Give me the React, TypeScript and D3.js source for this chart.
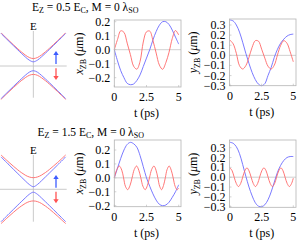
import React from 'react';
import * as d3 from 'd3';

const width = 297;
const height = 245;

// time grid (ps)
const tGrid = [0, 0.25, 0.5, 0.75, 1, 1.25, 1.5, 1.75, 2, 2.25, 2.5, 2.75, 3, 3.25, 3.5, 3.75, 4, 4.25, 4.5, 4.75, 5];

// Ez = 0.5 Ec
const xzbBlueTop = [0, -0.08, -0.15, -0.2, -0.24, -0.25, -0.245, -0.22, -0.18, -0.12, -0.06, 0.0, 0.07, 0.13, 0.175, 0.2, 0.2, 0.18, 0.14, 0.09, 0.04];
const xzbRedTop = [0, 0.073, 0.135, 0.124, 0.047, -0.035, -0.118, -0.139, -0.084, 0.055, 0.128, 0.133, 0.066, -0.024, -0.11, -0.14, -0.093, -0.018, 0.08, 0.137, 0.105];
const yzbBlueTop = [0.35, 0.34, 0.3, 0.23, 0.13, 0.02, -0.08, -0.17, -0.24, -0.285, -0.3, -0.28, -0.2, -0.12, -0.02, 0.06, 0.12, 0.16, 0.19, 0.205, 0.21];
const yzbRedTop = [0.15, 0.114, 0.02, -0.102, -0.135, -0.102, -0.019, 0.08, 0.145, 0.14, 0.061, -0.027, -0.107, -0.135, -0.097, 0.004, 0.098, 0.145, 0.12, 0.036, -0.064];

// Ez = 1.5 Ec
const xzbBlueBot = [0, 0.07, 0.14, 0.2, 0.24, 0.255, 0.245, 0.22, 0.16, 0.08, 0.0, -0.06, -0.115, -0.16, -0.19, -0.2, -0.195, -0.175, -0.14, -0.1, -0.05];
const xzbRedBotT = [0, 0.2, 0.39, 0.58, 0.72, 0.86, 1.04, 1.22, 1.38, 1.55, 1.73, 1.9, 2.06, 2.22, 2.4, 2.57, 2.73, 2.9, 3.08, 3.24, 3.38, 3.52, 3.67, 3.82, 3.96, 4.1, 4.26, 4.42, 4.57, 4.72, 4.88, 5];
const xzbRedBot = [0, 0.06, 0.085, 0.055, 0, -0.06, -0.085, -0.055, 0, 0.06, 0.085, 0.055, 0, -0.06, -0.085, -0.055, 0, 0.06, 0.085, 0.055, 0, -0.06, -0.085, -0.055, 0, 0.06, 0.085, 0.055, 0, -0.06, -0.085, -0.075];
const yzbBlueBot = [0.355, 0.345, 0.31, 0.24, 0.13, 0.01, -0.1, -0.19, -0.26, -0.295, -0.3, -0.28, -0.23, -0.15, -0.05, 0.05, 0.12, 0.17, 0.2, 0.21, 0.21];
const yzbRedBotT = [0, 0.17, 0.33, 0.5, 0.67, 0.84, 1.0, 1.17, 1.34, 1.5, 1.67, 1.84, 2.01, 2.18, 2.34, 2.51, 2.68, 2.85, 3.01, 3.18, 3.35, 3.52, 3.68, 3.85, 4.02, 4.19, 4.35, 4.52, 4.69, 4.86, 5];
const yzbRedBot = [0.095, 0.065, 0, -0.065, -0.095, -0.065, 0, 0.065, 0.095, 0.065, 0, -0.065, -0.095, -0.065, 0, 0.065, 0.095, 0.065, 0, -0.065, -0.095, -0.065, 0, 0.065, 0.095, 0.065, 0, -0.065, -0.095, -0.065, -0.01];

// band diagrams: k and E (arb. units)
const kGrid = [-1, -0.75, -0.5, -0.375, -0.25, -0.125, 0, 0.125, 0.25, 0.375, 0.5, 0.75, 1];
const bandBlueUpTop = [1.008, 0.761, 0.517, 0.397, 0.282, 0.18, 0.13, 0.18, 0.282, 0.397, 0.517, 0.761, 1.008];
const bandRedUpTop = [1.026, 0.784, 0.55, 0.44, 0.34, 0.262, 0.23, 0.262, 0.34, 0.44, 0.55, 0.784, 1.026];
const bandBlueLoTop = [-1.01, -0.764, -0.521, -0.402, -0.289, -0.191, -0.145, -0.191, -0.289, -0.402, -0.521, -0.764, -1.01];
const bandRedLoTop = [-1.033, -0.793, -0.563, -0.456, -0.362, -0.288, -0.26, -0.288, -0.362, -0.456, -0.563, -0.793, -1.033];
const bandBlueUpBot = [1.003, 0.754, 0.506, 0.383, 0.262, 0.148, 0.08, 0.148, 0.262, 0.383, 0.506, 0.754, 1.003];
const bandRedUpBot = [1.063, 0.832, 0.616, 0.52, 0.438, 0.381, 0.36, 0.381, 0.438, 0.52, 0.616, 0.832, 1.063];
const bandBlueLoBot = [-1.004, -0.755, -0.508, -0.386, -0.266, -0.154, -0.09, -0.154, -0.266, -0.386, -0.508, -0.755, -1.004];
const bandRedLoBot = [-1.063, -0.832, -0.616, -0.52, -0.438, -0.381, -0.36, -0.381, -0.438, -0.52, -0.616, -0.832, -1.063];

const xTicks = [0, 2.5, 5];
const xTickLabels = ['0', '2.5', '5'];
const xzbTicks = [-0.2, -0.1, 0, 0.1, 0.2];
const yzbTicks = [-0.3, -0.2, -0.1, 0, 0.1, 0.2, 0.3];

const RED = '#ff6868';
const BLUE = '#6a6aff';
const FRAME = '#b4b4b4';
const FONT = 'Liberation Serif, Times New Roman, serif';

const fmt = (v: number) => (v < 0 ? '\u2212' : '') + Math.abs(v).toFixed(1);

const TimePlot = ({ x0, x5, fx0, fx1, fy0, fy1, yDom, yRange, ticks, series, label, labelX }: any) => {
  const xScale = d3.scaleLinear().domain([0, 5]).range([x0, x5]);
  const yScale = d3.scaleLinear().domain(yDom).range(yRange);
  const line = d3.line<[number, number]>()
    .x(d => xScale(d[0]))
    .y(d => yScale(d[1]))
    .curve(d3.curveCatmullRom.alpha(0.5));
  const cy = (fy0 + fy1) / 2;
  return (
    <g>
      <line x1={fx0} x2={fx1} y1={yScale(0)} y2={yScale(0)} stroke="#c4c4c4" strokeWidth={0.8} />
      {series.map((s: any, i: number) => (
        <path key={i} d={line(s.t.map((t: number, j: number) => [t, s.v[j]]) as any) || ''}
          fill="none" stroke={s.color} strokeWidth={0.9} />
      ))}
      <rect x={fx0} y={fy0} width={fx1 - fx0} height={fy1 - fy0} fill="none" stroke={FRAME} strokeWidth={0.8} />
      {ticks.map((v: number) => (
        <g key={v}>
          <line x1={fx0} x2={fx0 + 2} y1={yScale(v)} y2={yScale(v)} stroke={FRAME} strokeWidth={0.6} />
          <text x={fx0 - 4} y={yScale(v) + 4} textAnchor="end" fontSize={12} fontFamily={FONT}>{fmt(v)}</text>
        </g>
      ))}
      {xTicks.map((v, i) => (
        <g key={v}>
          <line x1={xScale(v)} x2={xScale(v)} y1={fy1} y2={fy1 - 2} stroke={FRAME} strokeWidth={0.6} />
          <text x={xScale(v)} y={fy1 + 14} textAnchor="middle" fontSize={12} fontFamily={FONT}>{xTickLabels[i]}</text>
        </g>
      ))}
      <text x={(x0 + x5) / 2} y={fy1 + 30} textAnchor="middle" fontSize={12} fontFamily={FONT}>t (ps)</text>
      <text transform={`translate(${labelX},${cy}) rotate(-90)`} textAnchor="middle" fontSize={12} fontFamily={FONT}>
        <tspan fontStyle="italic">{label}</tspan>
        <tspan fontSize={8} dy={2.5}>ZB</tspan>
        <tspan dy={-2.5}> (</tspan>
        <tspan fontStyle="italic">μ</tspan>
        <tspan>m)</tspan>
      </text>
    </g>
  );
};

const Band = ({ cy, vTop, vBot, bands, arrowUp, arrowDown }: any) => {
  const xScale = d3.scaleLinear().domain([-1, 1]).range([1, 65.7]);
  const yScale = d3.scaleLinear().domain([-1, 1]).range([cy + 32.3, cy - 32.3]);
  const line = d3.line<[number, number]>()
    .x(d => xScale(d[0]))
    .y(d => yScale(d[1]))
    .curve(d3.curveCatmullRom.alpha(0.5));
  return (
    <g>
      <line x1={0} x2={66.7} y1={cy} y2={cy} stroke="#bdbdbd" strokeWidth={0.8} />
      <line x1={xScale(0)} x2={xScale(0)} y1={vTop} y2={vBot} stroke="#bdbdbd" strokeWidth={0.8} />
      <text x={xScale(0)} y={vTop - 1} textAnchor="middle" fontSize={11} fontFamily={FONT}>E</text>
      {bands.map((b: any, i: number) => (
        <path key={i} d={line(kGrid.map((k, j) => [k, b.v[j]]) as any) || ''} fill="none" stroke={b.color} strokeWidth={0.9} />
      ))}
      <line x1={56} x2={56} y1={arrowUp[0]} y2={arrowUp[1] + 3} stroke="#3c5cff" strokeWidth={1.3} />
      <path d={`M${53.3},${arrowUp[1] + 4} L56,${arrowUp[1]} L${58.7},${arrowUp[1] + 4} Z`} fill="#3c5cff" />
      <line x1={56} x2={56} y1={arrowDown[0]} y2={arrowDown[1] - 3} stroke="#ff5252" strokeWidth={1.3} />
      <path d={`M${53.3},${arrowDown[1] - 4} L56,${arrowDown[1]} L${58.7},${arrowDown[1] - 4} Z`} fill="#ff5252" />
    </g>
  );
};

const Title = ({ x, y, ez }: any) => (
  <text x={x} y={y} fontSize={11.5} fontFamily={FONT}>
    <tspan>E</tspan><tspan fontSize={8} dy={2}>Z</tspan>
    <tspan dy={-2}>{` = ${ez} E`}</tspan><tspan fontSize={8} dy={2}>C</tspan>
    <tspan dy={-2}>, M = 0 λ</tspan><tspan fontSize={8} dy={2}>SO</tspan>
  </text>
);

const App = () => {
  return (
    <svg width={width} height={height} style={{ position: 'fixed', left: 0, top: 0, background: '#fff' }}>
      <Title x={32} y={10.5} ez="0.5" />
      <Title x={37.5} y={136} ez="1.5" />

      <Band cy={66} vTop={31} vBot={97.7} arrowUp={[64, 51]} arrowDown={[68.3, 80]}
        bands={[
          { v: bandRedUpTop, color: RED }, { v: bandRedLoTop, color: RED },
          { v: bandBlueUpTop, color: BLUE }, { v: bandBlueLoTop, color: BLUE },
        ]} />
      <Band cy={189.3} vTop={155} vBot={221.7} arrowUp={[187.7, 175]} arrowDown={[191.7, 203.3]}
        bands={[
          { v: bandRedUpBot, color: RED }, { v: bandRedLoBot, color: RED },
          { v: bandBlueUpBot, color: BLUE }, { v: bandBlueLoBot, color: BLUE },
        ]} />

      <TimePlot x0={114.3} x5={178.7} fx0={114.3} fx1={181} fy0={20} fy1={87}
        yDom={[-0.2, 0.2]} yRange={[77.7, 21.7]} ticks={xzbTicks} label="x" labelX={83}
        series={[{ t: tGrid, v: xzbBlueTop, color: BLUE }, { t: tGrid, v: xzbRedTop, color: RED }]} />
      <TimePlot x0={230} x5={293.3} fx0={229.5} fx1={296} fy0={19} fy1={85.7}
        yDom={[-0.3, 0.3]} yRange={[85.7, 25]} ticks={yzbTicks} label="y" labelX={197}
        series={[{ t: tGrid, v: yzbBlueTop, color: BLUE }, { t: tGrid, v: yzbRedTop, color: RED }]} />
      <TimePlot x0={114.3} x5={178.7} fx0={114.3} fx1={181} fy0={140} fy1={206.7}
        yDom={[-0.2, 0.2]} yRange={[205.7, 150]} ticks={xzbTicks} label="x" labelX={83}
        series={[{ t: tGrid, v: xzbBlueBot, color: BLUE }, { t: xzbRedBotT, v: xzbRedBot, color: RED }]} />
      <TimePlot x0={230} x5={293.3} fx0={229.5} fx1={296} fy0={140} fy1={207.3}
        yDom={[-0.3, 0.3]} yRange={[206.7, 147.7]} ticks={yzbTicks} label="y" labelX={197}
        series={[{ t: tGrid, v: yzbBlueBot, color: BLUE }, { t: yzbRedBotT, v: yzbRedBot, color: RED }]} />
    </svg>
  );
};

export default App;
